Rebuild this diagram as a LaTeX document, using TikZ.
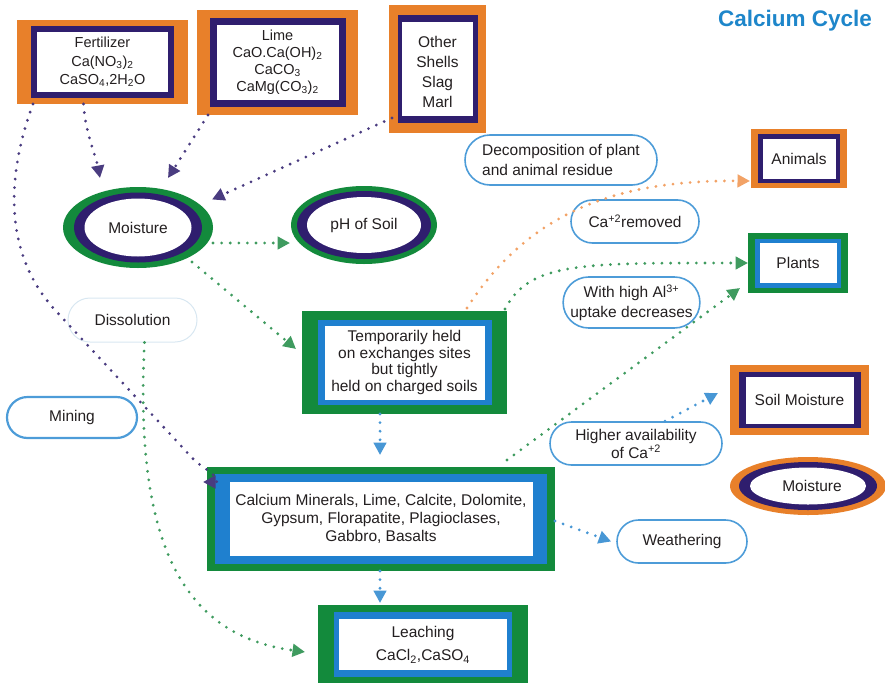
\documentclass[tikz,border=0pt]{standalone}
\usepackage{fontspec}
\setmainfont{Liberation Sans}
\usetikzlibrary{calc,arrows.meta,shapes.geometric,shapes.misc}

\definecolor{orng}{HTML}{E8802A}
\definecolor{purp}{HTML}{2F1E6E}
\definecolor{grn}{HTML}{138A3C}
\definecolor{blu}{HTML}{1F80CF}
\definecolor{pillblue}{HTML}{4D9CD8}
\definecolor{faint}{HTML}{D8E7F1}
\definecolor{ink}{HTML}{231F20}
\definecolor{titleblue}{HTML}{1E86CA}
\definecolor{dotpurp}{HTML}{4A3C80}
\definecolor{dotgrn}{HTML}{3F9B5F}
\definecolor{dotorng}{HTML}{F2A266}
\definecolor{dotblu}{HTML}{4897D5}

% Three-layer framed box: outer colour, middle frame, white panel.
% #1 name, #2 centre, #3 width, #4 height, #5 outer colour,
% #6 middle colour, #7 middle inset, #8 white inset
\newcommand\layered[8]{%
  \node[fill=#5, minimum width=#3, minimum height=#4, inner sep=0pt, outer sep=0pt] (#1) at (#2) {};
  \fill[#6] ($(#1.south west)+(#7)$) rectangle ($(#1.north east)-(#7)$);
  \fill[white] ($(#1.south west)+(#8)$) rectangle ($(#1.north east)-(#8)$);
}

\begin{document}
\begin{tikzpicture}[x=1pt,y=1pt,
  txt/.style={font=\fontsize{15.5}{18}\selectfont, text=ink, align=center, inner sep=0pt},
  oval/.style={ellipse, inner sep=0pt, outer sep=0pt},
  pill/.style={rounded rectangle, draw=pillblue, line width=1.6pt, inner sep=0pt, txt,
               font=\fontsize{15.5}{19.5}\selectfont},
  dotline/.style={line width=3.1pt, line cap=round, dash pattern=on 0pt off 8.6pt,
                  -{Triangle[length=12.5pt,width=12.5pt]}},
  pdots/.style={dotline, dotpurp},
  gdots/.style={dotline, dotgrn},
  odots/.style={dotline, dotorng},
  bdots/.style={dotline, dotblu}]
\useasboundingbox (0,0) rectangle (885,-685);

% ---- source boxes (top row)
\layered{fert}{102.5,-62}{171pt}{84pt}{orng}{purp}{14,6.5}{20,12}
\node[txt, font=\fontsize{14.5}{18.5}\selectfont] at (fert) {Fertilizer\\Ca(NO\textsubscript{3})\textsubscript{2}\\CaSO\textsubscript{4},2H\textsubscript{2}O};

\layered{lime}{277.5,-62.5}{161pt}{105pt}{orng}{purp}{12.5,8}{19.5,15}
\node[txt, font=\fontsize{14.5}{17}\selectfont] at (lime) {Lime\\CaO.Ca(OH)\textsubscript{2}\\CaCO\textsubscript{3}\\CaMg(CO\textsubscript{3})\textsubscript{2}};

\layered{other}{437.5,-69}{97pt}{128pt}{orng}{purp}{8.5,10}{13,17.5}
\node[txt, font=\fontsize{15.5}{20}\selectfont] at ($(other)+(0,-3)$) {Other\\Shells\\Slag\\Marl};

% ---- sinks on the right
\layered{animals}{799,-158.5}{96pt}{59pt}{orng}{purp}{7,5}{11.5,9.5}
\node[txt] at (animals) {Animals};

\layered{plants}{798,-263}{100pt}{60pt}{grn}{blu}{7,5.5}{11.5,10}
\node[txt] at (plants) {Plants};

\layered{soilm}{799.5,-400}{139pt}{70pt}{orng}{purp}{8.5,7}{15.5,11.5}
\node[txt] at (soilm) {Soil Moisture};

% ---- central pools
\layered{temp}{404.5,-362.5}{205pt}{103pt}{grn}{blu}{15.5,9}{22.5,14.5}
\node[txt, font=\fontsize{15.5}{16.8}\selectfont] at (temp) {Temporarily held\\on exchanges sites\\but tightly\\held on charged soils};

\layered{cmin}{381,-519}{348pt}{104pt}{grn}{blu}{8,7}{22.5,15}
\node[txt] at (cmin) {Calcium Minerals, Lime, Calcite, Dolomite,\\Gypsum, Florapatite, Plagioclases,\\Gabbro, Basalts};

\layered{leach}{423,-644}{210pt}{78pt}{grn}{blu}{16,6.5}{21,13.5}
\node[txt, font=\fontsize{15.5}{23}\selectfont] at ($(leach)+(0,-1)$) {Leaching\\CaCl\textsubscript{2},CaSO\textsubscript{4}};

% ---- ellipses
\node[oval, fill=grn, minimum width=150pt, minimum height=81pt] (moist) at (138,-227.5) {};
\node[oval, fill=purp, minimum width=128pt, minimum height=70pt] at (moist) {};
\node[oval, fill=white, minimum width=107pt, minimum height=58pt, txt] at (moist) {Moisture};

\node[oval, fill=grn, minimum width=146pt, minimum height=78pt] (ph) at (364,-225) {};
\node[oval, fill=purp, minimum width=134pt, minimum height=68pt] at (ph) {};
\node[oval, fill=white, minimum width=114pt, minimum height=56pt, txt] at (ph) {pH of Soil};

\node[oval, fill=orng, minimum width=156pt, minimum height=58pt] (moist2) at (808,-486) {};
\node[oval, fill=purp, minimum width=138pt, minimum height=48pt] at (moist2) {};
\node[oval, fill=white, minimum width=116pt, minimum height=37pt] at (moist2) {};
\node[txt] at ($(moist2)+(4,0)$) {Moisture};

% ---- process labels
\node[pill, minimum width=192pt, minimum height=50pt, align=left] (decomp) at (561,-160) {Decomposition of plant\\and animal residue};
\node[pill, minimum width=128pt, minimum height=43pt] (removed) at (635,-221.5) {Ca\textsuperscript{+2}removed};
\node[pill, minimum width=129pt, minimum height=51pt] (alum) at (631.5,-302.5) {With high Al\textsuperscript{3+}\\uptake decreases};
\node[pill, draw=faint, line width=1pt, minimum width=129pt, minimum height=44pt] (diss) at (132.5,-320) {Dissolution};
\node[pill, line width=2.2pt, minimum width=130pt, minimum height=41pt] (mining) at (72,-417.5) {Mining};
\node[pill, font=\fontsize{15.5}{18}\selectfont, minimum width=172pt, minimum height=43pt] (avail) at (636,-443.5) {Higher availability\\of Ca\textsuperscript{+2}};
\node[pill, minimum width=130pt, minimum height=43pt] (weath) at (682,-541.5) {Weathering};

% ---- title
\node[font=\bfseries\fontsize{22.5}{26}\selectfont, text=titleblue, inner sep=0pt] (title) at (795,-21) {Calcium Cycle};

% ---- purple flows from the sources
\draw[pdots] ($(fert.south)+(-19,0)$) .. controls +(2,-30) and +(-4,22) .. ($(moist.center)+(-38,49.5)$);
\draw[pdots] ($(fert.south west)+(16,0)$) .. controls +(-28,-76) and (5,-255) .. (55,-310)
   -- (196,-462) .. controls (214,-474) and (222,-482) .. ($(cmin.north west)+(-4,-15)$);
\draw[pdots] ($(lime.south west)+(11,0)$) -- ($(moist.center)+(30,49.5)$);
\draw[pdots] ($(other.south west)+(3,15)$) -- ($(moist.center)+(74,28)$);

% ---- green flows
\draw[gdots] ($(moist.center)+(75,-15.5)$) -- ($(ph.center)+(-74,-18)$);
\draw[gdots] ($(moist.center)+(54,-34.5)$) -- ($(temp.north west)+(-6,-38)$);
\draw[gdots] ($(diss.south)+(12,0)$) .. controls +(-10,-197) and +(-125,17) .. ($(leach.west)+(-13,-8)$);
\draw[gdots] ($(temp.north east)+(-2,2)$) .. controls +(25,47) and +(-168,0) .. (plants.west);
\draw[gdots] ($(cmin.north east)+(-48,7)$) -- ($(plants.south west)+(-8,5)$);

% ---- orange flow
\draw[odots] ($(temp.north east)+(-40,3)$) .. controls +(63,98) and +(-130,1) .. ($(animals.south west)+(-1,7)$);

% ---- blue flows
\draw[bdots] ($(temp.south)+(-24.5,0)$) -- ($(cmin.north)+(-1,12)$);
\draw[bdots] ($(cmin.south)+(-1,0)$) -- ($(leach.north)+(-43,2)$);
\draw[bdots] ($(avail.north)+(29,0)$) -- ($(soilm.west)+(-12,7)$);
\draw[bdots] ($(cmin.east)+(0,-2)$) -- ($(weath.west)+(-5,0)$);
\end{tikzpicture}
\end{document}
